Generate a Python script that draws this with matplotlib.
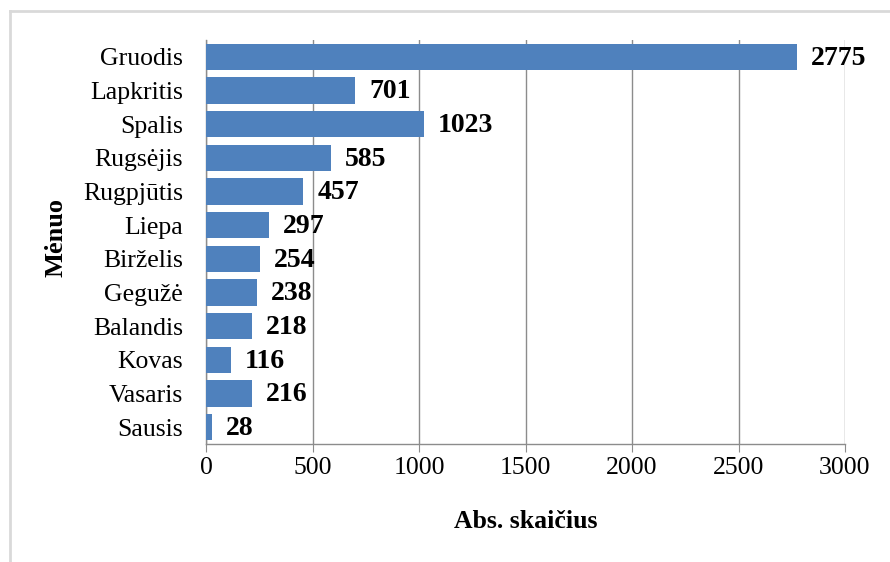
import matplotlib
matplotlib.use("Agg")
import matplotlib.pyplot as plt
from matplotlib.lines import Line2D

months = ["Gruodis", "Lapkritis", "Spalis", "Rugsėjis", "Rugpjūtis", "Liepa",
          "Birželis", "Gegužė", "Balandis", "Kovas", "Vasaris", "Sausis"]
counts = [2775, 701, 1023, 585, 457, 297, 254, 238, 218, 116, 216, 28]
xticks = [0, 500, 1000, 1500, 2000, 2500, 3000]

plt.rcParams["font.family"] = ["Liberation Serif", "DejaVu Serif"]

fig = plt.figure(figsize=(8.9, 5.62), dpi=100)
ax = fig.add_axes([206 / 890, 1 - 444 / 562, 639 / 890, 404 / 562])

ypos = list(range(len(months)))
ax.barh(ypos, counts, height=0.78, color="#4F81BD", zorder=3)
ax.set_ylim(len(months) - 0.5, -0.5)
ax.set_xlim(0, 3000)
ax.set_yticks(ypos)
ax.set_yticklabels(months, fontsize=18.5)
ax.set_xticks(xticks)
ax.set_xticklabels([str(t) for t in xticks], fontsize=18.5)

for y, v in zip(ypos, counts):
    ax.annotate(str(v), (v, y), xytext=(10, -1), textcoords="offset points",
                ha="left", va="center", fontsize=20, fontweight="bold", zorder=4)

ax.grid(axis="x", color="#8c8c8c", linewidth=1.0, zorder=0)
for side in ("top", "right"):
    ax.spines[side].set_visible(False)
for side in ("left", "bottom"):
    ax.spines[side].set_color("#8c8c8c")
    ax.spines[side].set_linewidth(1.0)
ax.tick_params(axis="y", length=0, pad=16.5)
ax.tick_params(axis="x", length=6, color="#8c8c8c", pad=3)

ax.set_xlabel("Abs. skaičius", fontsize=18.5, fontweight="bold")
ax.set_ylabel("Mėnuo", fontsize=19, fontweight="bold")
ax.xaxis.set_label_coords(0.5, -0.163)
ax.yaxis.set_label_coords(-0.216, 0.51)

# light outer frame along the top and left edges
fig.add_artist(Line2D([9.5 / 890, 9.5 / 890], [0, 1 - 11 / 562],
                      transform=fig.transFigure, color="#d9d9d9", linewidth=2))
fig.add_artist(Line2D([9.5 / 890, 1], [1 - 11 / 562, 1 - 11 / 562],
                      transform=fig.transFigure, color="#d9d9d9", linewidth=2))

fig.savefig("out.png", dpi=100)
